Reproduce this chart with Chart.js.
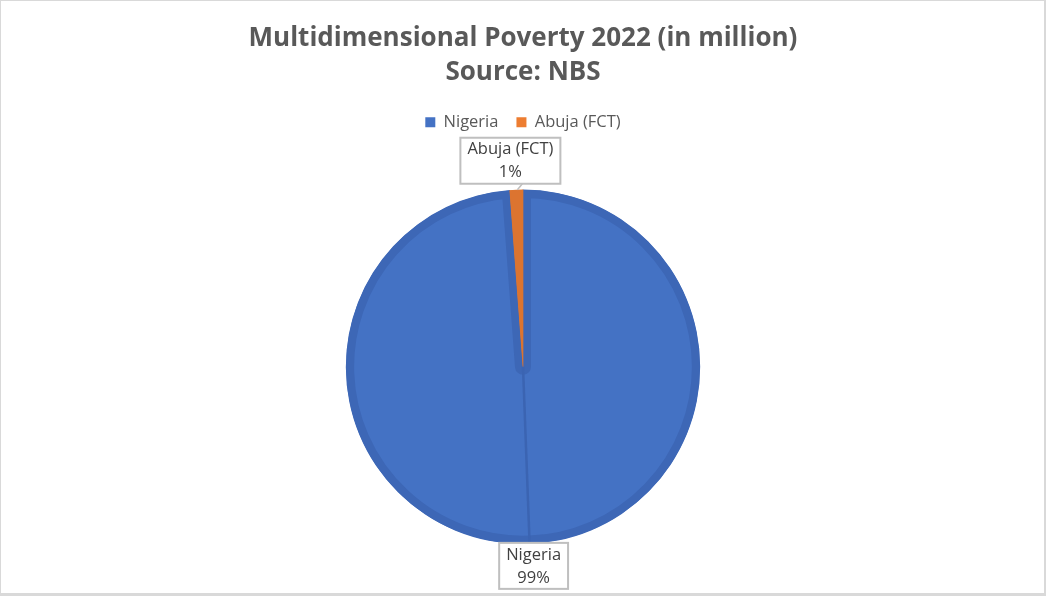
<!DOCTYPE html>
<html>
<head>
<meta charset="utf-8">
<script src="https://cdn.jsdelivr.net/npm/chart.js@4.4.1/dist/chart.umd.min.js"></script>
<style>
  html, body { margin: 0; padding: 0; background: #fff; }
  #wrap {
    width: 1046px; height: 596px; box-sizing: border-box;
    border-style: solid; border-color: #d9d9d9;
    border-width: 1px 2px 3px 1px;
    position: relative; overflow: hidden;
  }
  #povertyChart { position: absolute; left: -1px; top: -1px; }
</style>
</head>
<body>
<div id="wrap"><canvas id="povertyChart" width="1046" height="596"></canvas></div>
<script>
// Data (million people)
const categories = ['Nigeria', 'Abuja (FCT)'];
const poorMillions = [133, 1.6];
const sliceColors = ['#4472C4', '#ED7D31'];
const ringColors = ['#3D67B6', '#DC7430'];
const titleLines = ['Multidimensional Poverty 2022 (in million)', 'Source: NBS'];

const FONT = "'Open Sans', 'DejaVu Sans', sans-serif";

// push the pie down a bit below the legend
const legendGap = {
    id: 'legendGap',
    beforeInit(chart) {
        const fit = chart.legend.fit;
        chart.legend.fit = function () {
            fit.bind(chart.legend)();
            this.height += 49;
        };
    }
};

// Excel-style data labels in boxes outside the pie
const outsideLabels = {
    id: 'outsideLabels',
    afterDatasetsDraw(chart) {
        const ctx = chart.ctx;
        const meta = chart.getDatasetMeta(0);
        const data = chart.data.datasets[0].data;
        const total = data.reduce((a, b) => a + b, 0);

        // dark seam through the big slice (as in the reference)
        const big = meta.data[0];
        const bigMid = (big.startAngle + big.endAngle) / 2;
        ctx.save();
        ctx.strokeStyle = '#3B64B2';
        ctx.lineWidth = 2.5;
        ctx.beginPath();
        ctx.moveTo(big.x, big.y);
        ctx.lineTo(big.x + Math.cos(bigMid) * (big.outerRadius - 2), big.y + Math.sin(bigMid) * (big.outerRadius - 2));
        ctx.stroke();
        ctx.restore();

        ctx.save();
        ctx.font = '16.5px ' + FONT;
        ctx.textAlign = 'center';
        ctx.textBaseline = 'middle';
        meta.data.forEach((arc, i) => {
            const mid = (arc.startAngle + arc.endAngle) / 2;
            const ex = arc.x + Math.cos(mid) * arc.outerRadius;
            const ey = arc.y + Math.sin(mid) * arc.outerRadius;
            const pct = Math.round(data[i] / total * 100) + '%';
            const lines = [categories[i], pct];
            const w = Math.max(...lines.map(t => ctx.measureText(t).width)) + 14;
            const h = 46;
            const upper = Math.sin(mid) < 0;
            const gap = upper ? 6 : -1;
            let bx = ex - w / 2 + (upper ? -6 : 4);
            let by = upper ? ey - gap - h : ey + gap;

            // leader line
            if (upper) {
                ctx.strokeStyle = '#bfbfbf';
                ctx.lineWidth = 1.5;
                ctx.beginPath();
                ctx.moveTo(ex + 1, ey);
                ctx.lineTo(ex + 6, by + h);
                ctx.stroke();
            }
            ctx.fillStyle = '#ffffff';
            ctx.fillRect(bx, by, w, h);
            ctx.strokeStyle = '#bfbfbf';
            ctx.lineWidth = 2;
            ctx.strokeRect(bx, by, w, h);
            ctx.fillStyle = '#404040';
            ctx.fillText(lines[0], bx + w / 2, by + 12);
            ctx.fillText(lines[1], bx + w / 2, by + 35);
        });
        ctx.restore();
    }
};

document.addEventListener('DOMContentLoaded', function () {
    const ctx = document.getElementById('povertyChart').getContext('2d');
    new Chart(ctx, {
        type: 'pie',
        data: {
            labels: categories,
            datasets: [{
                data: poorMillions,
                backgroundColor: sliceColors,
                borderColor: ringColors,
                borderWidth: 8,
                borderAlign: 'inner'
            }]
        },
        options: {
            responsive: false,
            animation: false,
            layout: { padding: { top: 0, bottom: 52 } },
            plugins: {
                title: {
                    display: true,
                    text: titleLines,
                    color: '#595959',
                    font: { family: FONT, size: 26, weight: 'bold', lineHeight: 1.31 },
                    padding: { top: 22, bottom: 6 }
                },
                legend: {
                    display: true,
                    position: 'top',
                    labels: {
                        color: '#595959',
                        font: { family: FONT, size: 16.5 },
                        boxWidth: 10,
                        boxHeight: 10,
                        padding: 18,
                        generateLabels(chart) {
                            const items = Chart.overrides.pie.plugins.legend.labels.generateLabels(chart);
                            items.forEach(it => { it.lineWidth = 0; it.strokeStyle = it.fillStyle; });
                            return items;
                        }
                    }
                },
                tooltip: { enabled: false }
            }
        },
        plugins: [legendGap, outsideLabels]
    });
});
</script>
</body>
</html>
